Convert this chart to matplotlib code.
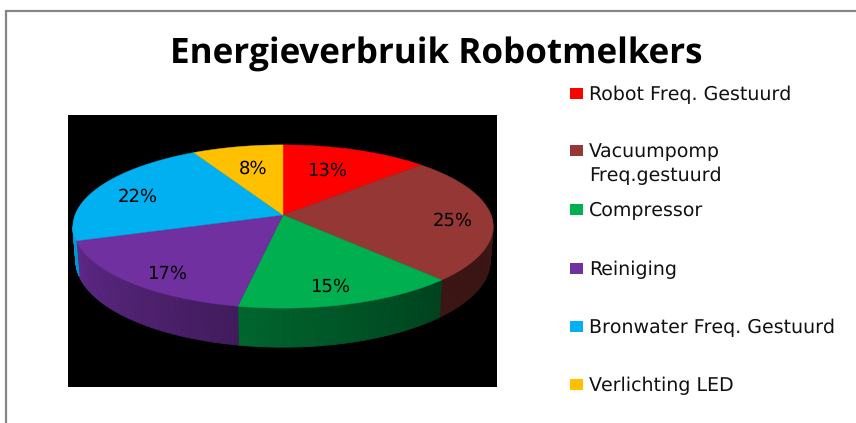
import numpy as np
import matplotlib
matplotlib.use("Agg")
import matplotlib.pyplot as plt
from matplotlib.patches import Polygon, Rectangle

plt.rcParams["text.hinting"] = "none"
plt.rcParams["text.hinting_factor"] = 1

categories = ["Robot Freq. Gestuurd", "Vacuumpomp\nFreq.gestuurd", "Compressor",
              "Reiniging", "Bronwater Freq. Gestuurd", "Verlichting LED"]
values = [13, 25, 15, 17, 22, 8]
labels = ["13%", "25%", "15%", "17%", "22%", "8%"]
colors = ["#FF0000", "#953735", "#00B050", "#7030A0", "#00B0F0", "#FFC000"]
title = "Energieverbruik Robotmelkers"

FONT = "Open Sans"
BODY = "DejaVu Sans"
CX, CY, RX, RY, K, DEPTH, SHRINK = 283, 215, 208, 80, 0.141, 33.5, 0.986
label_xy = [(327, 170.5), (453, 220.5), (330, 286.5), (167, 273.5), (138, 196.5), (253, 168.5)]
legend_y = [93.5, 151, 210, 268.5, 326.5, 385]

fig = plt.figure(figsize=(8.56, 4.23), dpi=100, facecolor="white")
ax = fig.add_axes([0, 0, 1, 1])
ax.set_xlim(0, 856)
ax.set_ylim(423, 0)
ax.axis("off")

# chart frame, runs off the right and bottom of the crop
ax.plot([6.5, 6.5, 860], [430, 11.5, 11.5], color="#868686", lw=1.6, solid_joinstyle="miter")
ax.add_patch(Rectangle((68, 115), 429, 272, fc="black", ec="none"))


def top(deg):
    a = np.radians(deg)
    u, t = np.sin(a), -np.cos(a)
    w = 1 - K * t
    return CX + RX * u / w, CY + RY * t / w


def bottom(deg):
    a = np.radians(deg)
    t = -np.cos(a)
    x, y = top(deg)
    return CX + (x - CX) * SHRINK, y + DEPTH / (1 - K * t)


def shade(deg):
    return np.interp(deg, [0, 90, 137, 191, 252, 270, 360],
                     [.35, .35, .38, .58, .85, .9, .9])


edges = np.concatenate([[0], np.cumsum(values)]) / sum(values) * 360

# side walls
for i, col in enumerate(colors):
    rgb = np.array(matplotlib.colors.to_rgb(col))
    seg = np.linspace(edges[i], edges[i + 1], max(int(edges[i + 1] - edges[i]), 2) + 1)
    for a0, a1 in zip(seg[:-1], seg[1:]):
        if not 85 <= (a0 + a1) / 2 <= 262:
            continue
        if i == 1:
            s = 0.40
        else:
            s = shade((a0 + a1) / 2)
        c = tuple(rgb * s)
        ax.add_patch(Polygon([top(a0), top(a1), bottom(a1), bottom(a0)],
                             closed=True, fc=c, ec=c, lw=0.6))

# top face
for i, col in enumerate(colors):
    seg = np.linspace(edges[i], edges[i + 1], 120)
    pts = [(CX, CY)] + [top(a) for a in seg]
    ax.add_patch(Polygon(pts, closed=True, fc=col, ec=col, lw=0.3))

for (x, y), s in zip(label_xy, labels):
    ax.text(x, y, s, ha="center", va="center", fontsize=13.3, family=BODY, color="black")

ax.text(436.5, 50, title, ha="center", va="center_baseline", fontsize=25.5, fontweight="bold",
        family=FONT, color="black")

for y, col, name in zip(legend_y, colors, categories):
    ax.add_patch(Rectangle((570, y - 5.5), 13, 11, fc=col, ec="none"))
    lines = name.split("\n")
    for j, line in enumerate(lines):
        ax.text(589, y + 1 + 24 * j, line, ha="left", va="center", fontsize=14.0,
                family=BODY, color="#111111")

fig.savefig("out.png", dpi=100, facecolor="white")
